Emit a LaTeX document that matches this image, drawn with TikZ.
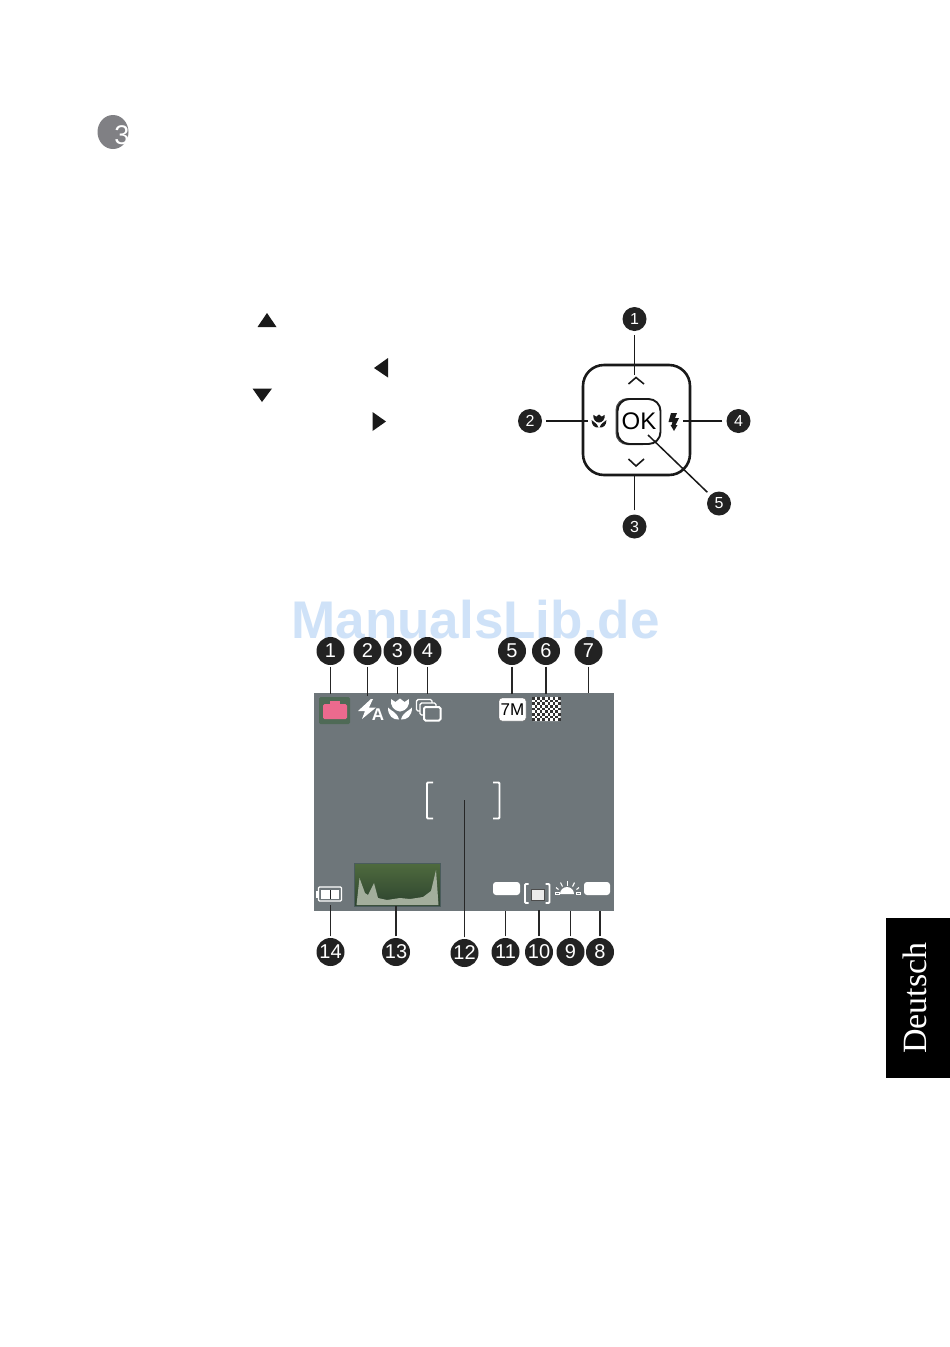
\documentclass[tikz,border=0pt]{standalone}
\usepackage{fontspec}
\setmainfont{Liberation Sans}
\newfontfamily\serifface{Liberation Serif}
\definecolor{scr}{HTML}{6E767A}
\definecolor{bdgc}{HTML}{222222}
\definecolor{wm}{HTML}{CFE2F8}
\definecolor{bullet}{HTML}{808084}
\definecolor{campink}{HTML}{EC6A8E}
\definecolor{camgreen}{HTML}{4F6A56}
\definecolor{histfill}{HTML}{A3AE9C}
\definecolor{histedge}{HTML}{4A5C5C}
\definecolor{histtop}{HTML}{4F6B3E}
\definecolor{histlow}{HTML}{2D432F}
\tikzset{
 x=1pt,y=-1pt,
 bdg/.style={circle,fill=bdgc,text=white,inner sep=0pt,minimum size=28pt,font=\fontsize{20}{20}\selectfont},
 kbdg/.style={circle,fill=bdgc,text=white,inner sep=0pt,minimum size=24pt,font=\fontsize{16}{16}\selectfont},
 lead/.style={draw=black!85,line width=1.1pt,shorten <=1.5pt},
 klead/.style={draw=black!90,line width=1.5pt,shorten <=4pt},
 tri/.style={fill=black!90},
 whitebox/.style={fill=white,rounded corners=3pt,inner sep=0pt},
 macroicon/.pic={
  \fill (-9,-10) -- (-4.5,-7) -- (0,-10.5) -- (4.5,-7) -- (9,-10) .. controls (10,-3) and (6,2) .. (0,2.5) .. controls (-6,2) and (-10,-3) .. (-9,-10) -- cycle;
  \fill (-12,-1.5) .. controls (-9,2) and (-3,3) .. (-1,10.5) .. controls (-7,11) and (-12,7) .. (-12,-1.5) -- cycle;
  \fill (12,-1.5) .. controls (9,2) and (3,3) .. (1,10.5) .. controls (7,11) and (12,7) .. (12,-1.5) -- cycle;
 }
}
\begin{document}
\begin{tikzpicture}
\useasboundingbox (0,0) rectangle (950,1347);
\fill[white] (0,0) rectangle (950,1347);

% top step bullet
\fill[bullet] (113,132) ellipse (15.5 and 17);
\node[text=white,font=\fontsize{27}{27}\selectfont,inner sep=0pt] (stepno) at (122,135) {3};

% triangles
\fill[tri] (267,313) -- (276.5,327) -- (257.5,327) -- cycle;
\fill[tri] (374,368) -- (388,358) -- (388,377.5) -- cycle;
\fill[tri] (252.5,388.5) -- (272,388.5) -- (262,402) -- cycle;
\fill[tri] (372.5,412) -- (386,421.5) -- (372.5,431) -- cycle;

% keypad
\node[draw=black!90,line width=2.6pt,rounded corners=21pt,minimum width=107pt,minimum height=110pt,inner sep=0pt] (pad) at (636.5,420) {};
\fill[black!70,rounded corners=12pt] (615.5,398) rectangle (655,445);
\node[draw=black!90,fill=white,line width=1.9pt,rounded corners=12pt,minimum width=43pt,minimum height=45pt,inner sep=0pt,font=\fontsize{24}{24}\selectfont] (ok) at (639,421.5) {OK};
\draw[black!90,line width=1.6pt] (628.5,384) -- (636,377.5) -- (644,384);
\draw[black!90,line width=1.6pt] (628.5,459) -- (636,466) -- (644,459);
\pic[black!90,scale=0.62] at (599,421) {macroicon};
\fill[black!90] (671,413) -- (668.5,422) -- (672.5,422) -- (671.5,425) -- (670.5,425) -- (674,431) -- (677.5,425) -- (675.5,425) -- (679,418) -- (675,418) -- (677,413) -- cycle;
\node[kbdg] (k1) at (634.5,319) {1};
\node[kbdg] (k2) at (530,421) {2};
\node[kbdg] (k3) at (634.5,526.5) {3};
\node[kbdg] (k4) at (738.5,421) {4};
\node[kbdg] (k5) at (719,503.5) {5};
\coordinate (ke1) at (634.5,374.5);
\coordinate (ke2) at (588,421);
\coordinate (ke3) at (634.5,474);
\coordinate (ke4) at (683,421);
\coordinate (ke5) at (648,435);
\draw[klead] (k1) -- (ke1);
\draw[klead] (k2) -- (ke2);
\draw[klead] (k3) -- (ke3);
\draw[klead] (k4) -- (ke4);
\draw[klead] (k5) -- (ke5);

% watermark
\node[text=wm,font=\fontsize{53}{53}\selectfont\bfseries,inner sep=0pt] (wmark) at (475.5,620) {ManualsLib.de};

% screen
\fill[scr] (314,693) rectangle (614,911);
% camera
\fill[camgreen,rounded corners=1.5pt] (319,697) rectangle (350,724);
\fill[campink,rounded corners=1.5pt] (323,704) rectangle (347,719);
\fill[campink] (330,701) rectangle (340,705);
% flash auto
\fill[white] (371,699) -- (358,711) -- (365,711) -- (362,719) -- (376,707.5) -- (369,707.5) -- (373,699) -- cycle;
\node[text=white,font=\fontsize{17}{17}\selectfont\bfseries,inner sep=0pt] (autoA) at (378,715) {A};
% macro
\pic[white] at (400,709) {macroicon};
% continuous
\draw[white,line width=1.4pt,rounded corners=1.5pt] (416.5,699.5) rectangle (432,711);
\draw[white,line width=1.4pt,rounded corners=1.5pt,fill=scr] (420,703) rectangle (436,715);
\draw[white,line width=2pt,rounded corners=1.5pt,fill=scr] (424,707) rectangle (440.5,720.5);
% 7M
\node[whitebox,draw=black!60,line width=0.4pt,minimum width=27pt,minimum height=23pt,font=\fontsize{17}{17}\selectfont] (sevenm) at (512.5,709.5) {7M};
% checker
\fill[white,rounded corners=1pt] (532,697) rectangle (560.5,721);
\foreach \i in {0,...,10}{
 \foreach \j in {0,...,8}{
  \pgfmathtruncatemacro{\chk}{mod(\i+\j,2)}
  \ifnum\chk=0
   \fill[black!80] ({532+\i*2.6},{697+\j*2.67}) rectangle ({532+\i*2.6+2.6},{697+\j*2.67+2.67});
  \fi
 }
}
% focus brackets
\draw[white,line width=1.9pt,rounded corners=1pt] (433,782.5) -- (427,782.5) -- (427,818.5) -- (433,818.5);
\draw[white,line width=1.9pt,rounded corners=1pt] (493,782.5) -- (499.5,782.5) -- (499.5,818.5) -- (493,818.5);
% histogram
\shade[top color=histtop,bottom color=histlow] (354,863) rectangle (440,906);
\draw[histedge,line width=1pt] (354,863) rectangle (440,906);
\fill[histfill] (356.5,905) -- (359.5,878) -- (365,893) -- (368,895) -- (374,883) -- (378,898) -- (387,900) -- (400,898) -- (410,899) -- (423,897) -- (431,891) -- (436,870) -- (438.5,905) -- cycle;
% battery
\fill[white] (316,890.5) rectangle (319,897.5);
\draw[white,line width=1.1pt,rounded corners=1pt] (318.5,887) rectangle (341.5,901);
\fill[white] (321,889.5) rectangle (339,898.5);
\fill[black!70!scr] (329.6,889.5) rectangle (330.4,898.5);
% white boxes
\node[whitebox,minimum width=27pt,minimum height=13pt] (wb11) at (506.5,888.5) {};
\node[whitebox,minimum width=26pt,minimum height=13pt] (wb8) at (597,888.5) {};
% AF bracket
\draw[white,line width=1.9pt,rounded corners=1pt] (528.5,884) -- (525,884) -- (525,903) -- (528.5,903);
\draw[white,line width=1.9pt,rounded corners=1pt] (545.5,884) -- (549.5,884) -- (549.5,903) -- (545.5,903);
\draw[black!70,fill=white!92!black,line width=0.9pt] (531,889.5) rectangle (544,900);
% sun
\fill[white] (560,894) arc[start angle=180,end angle=360,radius=7] -- cycle;
\draw[white,line width=0.8pt] (555.5,892) rectangle (559,894.5);
\draw[white,line width=0.8pt] (576,892) rectangle (580,894.5);
\draw[white,line width=1.1pt] (567.3,885.5) -- (567.3,881);
\draw[white,line width=1.1pt] (562.5,886.5) -- (560.5,882.5);
\draw[white,line width=1.1pt] (572.5,886.5) -- (574.5,882.5);
\draw[white,line width=1.1pt] (558.5,889.5) -- (556,887.5);
\draw[white,line width=1.1pt] (576.5,889.5) -- (579,887.5);

% badges top
\node[bdg] (t1) at (330.5,651) {1};
\node[bdg] (t2) at (367.5,651) {2};
\node[bdg] (t3) at (397.5,651) {3};
\node[bdg] (t4) at (427.5,651) {4};
\node[bdg] (t5) at (512,651) {5};
\node[bdg] (t6) at (546,651) {6};
\node[bdg] (t7) at (588.5,651) {7};
\coordinate (te1) at (330.5,694);
\coordinate (te2) at (367.5,696);
\coordinate (te3) at (397.5,694);
\coordinate (te4) at (427.5,694);
\coordinate (te5) at (512,694);
\coordinate (te6) at (546,694);
\coordinate (te7) at (588.5,693);
\foreach \n in {1,...,7}{\draw[lead] (t\n) -- (te\n);}
% badges bottom
\node[bdg] (b14) at (330.5,952) {14};
\node[bdg] (b13) at (396,952) {13};
\node[bdg] (b12) at (464.5,953) {12};
\node[bdg] (b11) at (505.5,952) {11};
\node[bdg] (b10) at (539,952) {10};
\node[bdg] (b9) at (570.5,952) {9};
\node[bdg] (b8) at (600,952) {8};
\coordinate (be14) at (330.5,905);
\coordinate (be13) at (396,906);
\coordinate (be12) at (464.5,800);
\coordinate (be11) at (505.5,911);
\coordinate (be10) at (539,910);
\coordinate (be9) at (570.5,911);
\coordinate (be8) at (600,911);
\foreach \n in {8,...,14}{\draw[lead] (b\n) -- (be\n);}

% side tab
\fill[black] (886,918) rectangle (950,1078);
\node[rotate=90,text=white,font=\serifface\fontsize{34}{34}\selectfont,inner sep=0pt] (tab) at (915,998) {Deutsch};
\end{tikzpicture}
\end{document}
